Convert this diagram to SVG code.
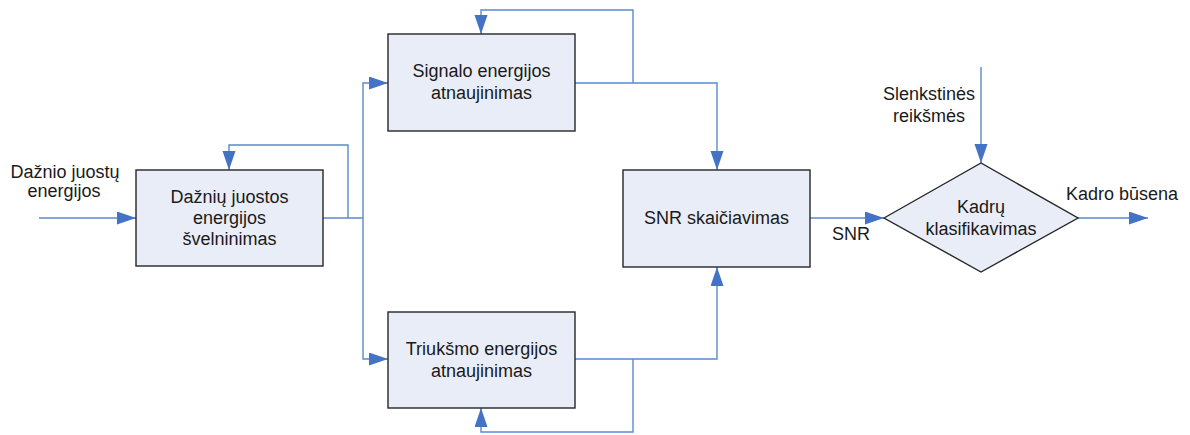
<svg xmlns="http://www.w3.org/2000/svg" width="1190" height="435" viewBox="0 0 1190 435">
  <style>
    .node { fill: #E9EDF7; stroke: #262626; stroke-width: 1.4; }
    .wire { fill: none; stroke: #5A8AD0; stroke-width: 1.4; }
    .arr { marker-end: url(#head); }
    text { font-family: "Liberation Sans", Arial, sans-serif; font-size: 18px; fill: #1A1A1A; text-anchor: middle; }
  </style>
  <defs>
    <marker id="head" markerUnits="userSpaceOnUse" markerWidth="20" markerHeight="14" refX="19" refY="6.5" orient="auto">
      <path d="M0,0 L19,6.5 L0,13 Z" fill="#4472C4"/>
    </marker>
  </defs>

  <!-- connectors -->
  <g id="connectors">
    <!-- external input -->
    <path class="wire arr" d="M39,218 H136"/>
    <!-- smoothing output to bus -->
    <path class="wire" d="M323,218 H363"/>
    <path class="wire arr" d="M348,218 V145 H229 V170"/>
    <path class="wire arr" d="M363,218 V83 H388"/>
    <path class="wire arr" d="M363,218 V359 H388"/>
    <!-- signal energy update -->
    <path class="wire arr" d="M575,83 H717 V170"/>
    <path class="wire arr" d="M633,83 V10 H481 V34"/>
    <!-- noise energy update -->
    <path class="wire arr" d="M575,359 H717 V267"/>
    <path class="wire arr" d="M633,359 V432 H481 V408"/>
    <!-- SNR to classifier -->
    <path class="wire arr" d="M810,218 H884"/>
    <!-- thresholds -->
    <path class="wire arr" d="M981,67 V163"/>
    <!-- classifier output -->
    <path class="wire arr" d="M1078,218 H1148"/>
  </g>

  <!-- connector labels -->
  <text x="65" y="178">Dažnio juostų</text>
  <text x="64" y="197">energijos</text>
  <text x="851" y="240">SNR</text>
  <text x="929" y="100">Slenkstinės</text>
  <text x="929" y="122">reikšmės</text>
  <text x="1122" y="200">Kadro būsena</text>

  <g id="smoothing">
    <rect class="node" x="136" y="170" width="187" height="96"/>
    <text x="229.5" y="203">Dažnių juostos</text>
    <text x="229.5" y="224">energijos</text>
    <text x="229.5" y="245">švelninimas</text>
  </g>

  <g id="signal-update">
    <rect class="node" x="388" y="34" width="187" height="97"/>
    <text x="481.5" y="77">Signalo energijos</text>
    <text x="481.5" y="99">atnaujinimas</text>
  </g>

  <g id="noise-update">
    <rect class="node" x="388" y="312" width="187" height="96"/>
    <text x="481.5" y="355">Triukšmo energijos</text>
    <text x="481.5" y="377">atnaujinimas</text>
  </g>

  <g id="snr">
    <rect class="node" x="623" y="170" width="187" height="97"/>
    <text x="716.5" y="224">SNR skaičiavimas</text>
  </g>

  <g id="classifier">
    <polygon class="node" points="884,218 981,163 1078,218 981,272"/>
    <text x="981" y="213">Kadrų</text>
    <text x="981" y="235">klasifikavimas</text>
  </g>
</svg>
